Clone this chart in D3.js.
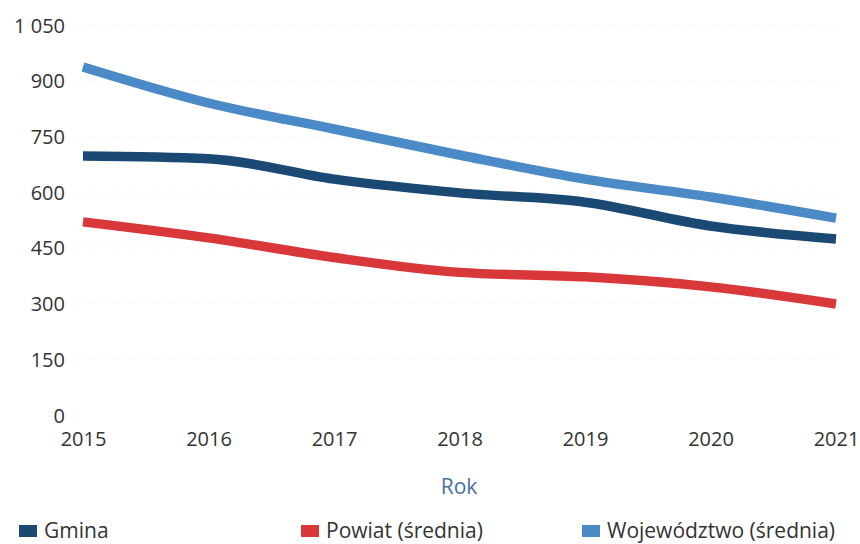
<!DOCTYPE html>
<html>
<head>
<meta charset="utf-8">
<script src="https://cdn.jsdelivr.net/npm/d3@7"></script>
<style>
  html, body { margin: 0; padding: 0; background: #fff; }
  svg { display: block; font-family: "Open Sans", "Noto Sans", sans-serif; }
  .axis text { fill: #333; font-size: 20px; font-family: "Open Sans", "Noto Sans", sans-serif; }
  .axis path, .axis line { stroke: none; }
  .grid line { stroke: #f3f3f3; stroke-dasharray: 2 3; }
  .series { fill: none; stroke-width: 9.5; stroke-linejoin: round; }
  .legend text { fill: #333; font-size: 21px; }
</style>
</head>
<body>
<div id="chart"></div>
<script>
const years = [2015, 2016, 2017, 2018, 2019, 2020, 2021];
const gmina = [697, 690, 635, 598, 573, 509, 474];
const powiat = [520, 477, 424, 384, 372, 345, 299];
const wojewodztwo = [937, 840, 770, 700, 635, 587, 530];
const yTicks = [0, 150, 300, 450, 600, 750, 900, 1050];

const series = [
  { name: "Gmina", values: gmina, color: "#1a4a73" },
  { name: "Powiat (średnia)", values: powiat, color: "#d9383a" },
  { name: "Województwo (średnia)", values: wojewodztwo, color: "#4a8ac6" }
];

const width = 860, height = 544;
const m = { top: 25, right: 24, bottom: 129, left: 83 };

const svg = d3.select("#chart").append("svg")
  .attr("width", width).attr("height", height);

const x = d3.scaleLinear([2015, 2021], [m.left, width - m.right]);
const y = d3.scaleLinear([0, 1050], [height - m.bottom, m.top]);

svg.append("g").attr("class", "grid")
  .selectAll("line").data(yTicks.slice(1)).join("line")
  .attr("x1", m.left).attr("x2", width - m.right)
  .attr("y1", d => y(d)).attr("y2", d => y(d));

const fmt = d => d3.format(",")(d).replace(",", " ");
svg.append("g").attr("class", "axis")
  .attr("transform", `translate(${m.left - 18},0)`)
  .call(d3.axisLeft(y).tickValues(yTicks).tickFormat(fmt).tickSize(0).tickPadding(0))
  .selectAll("text").attr("dy", "0.35em");

svg.append("g").attr("class", "axis")
  .attr("transform", `translate(0,${height - m.bottom + 17})`)
  .call(d3.axisBottom(x).tickValues(years).tickFormat(d3.format("d")).tickSize(0).tickPadding(0))
  .selectAll("text").attr("dy", "0.71em");

svg.append("text")
  .attr("x", 459).attr("y", 487).attr("dy", "0.35em")
  .attr("text-anchor", "middle")
  .attr("fill", "#4a6f9c").attr("font-size", 21)
  .text("Rok");

const line = d3.line()
  .x((_, i) => x(years[i]))
  .y(v => y(v))
  .curve(d3.curveMonotoneX);

for (const s of series) {
  svg.append("path").attr("class", "series")
    .attr("stroke", s.color)
    .attr("d", line(s.values));
}

const legendX = [19, 301, 582];
const lg = svg.append("g").attr("class", "legend");
series.forEach((s, i) => {
  const g = lg.append("g").attr("transform", `translate(${legendX[i]},531)`);
  g.append("rect").attr("x", 0).attr("y", -6).attr("width", 18).attr("height", 12)
    .attr("fill", s.color);
  g.append("text").attr("x", 25).attr("y", 0).attr("dy", "0.35em").text(s.name);
});
</script>
</body>
</html>
